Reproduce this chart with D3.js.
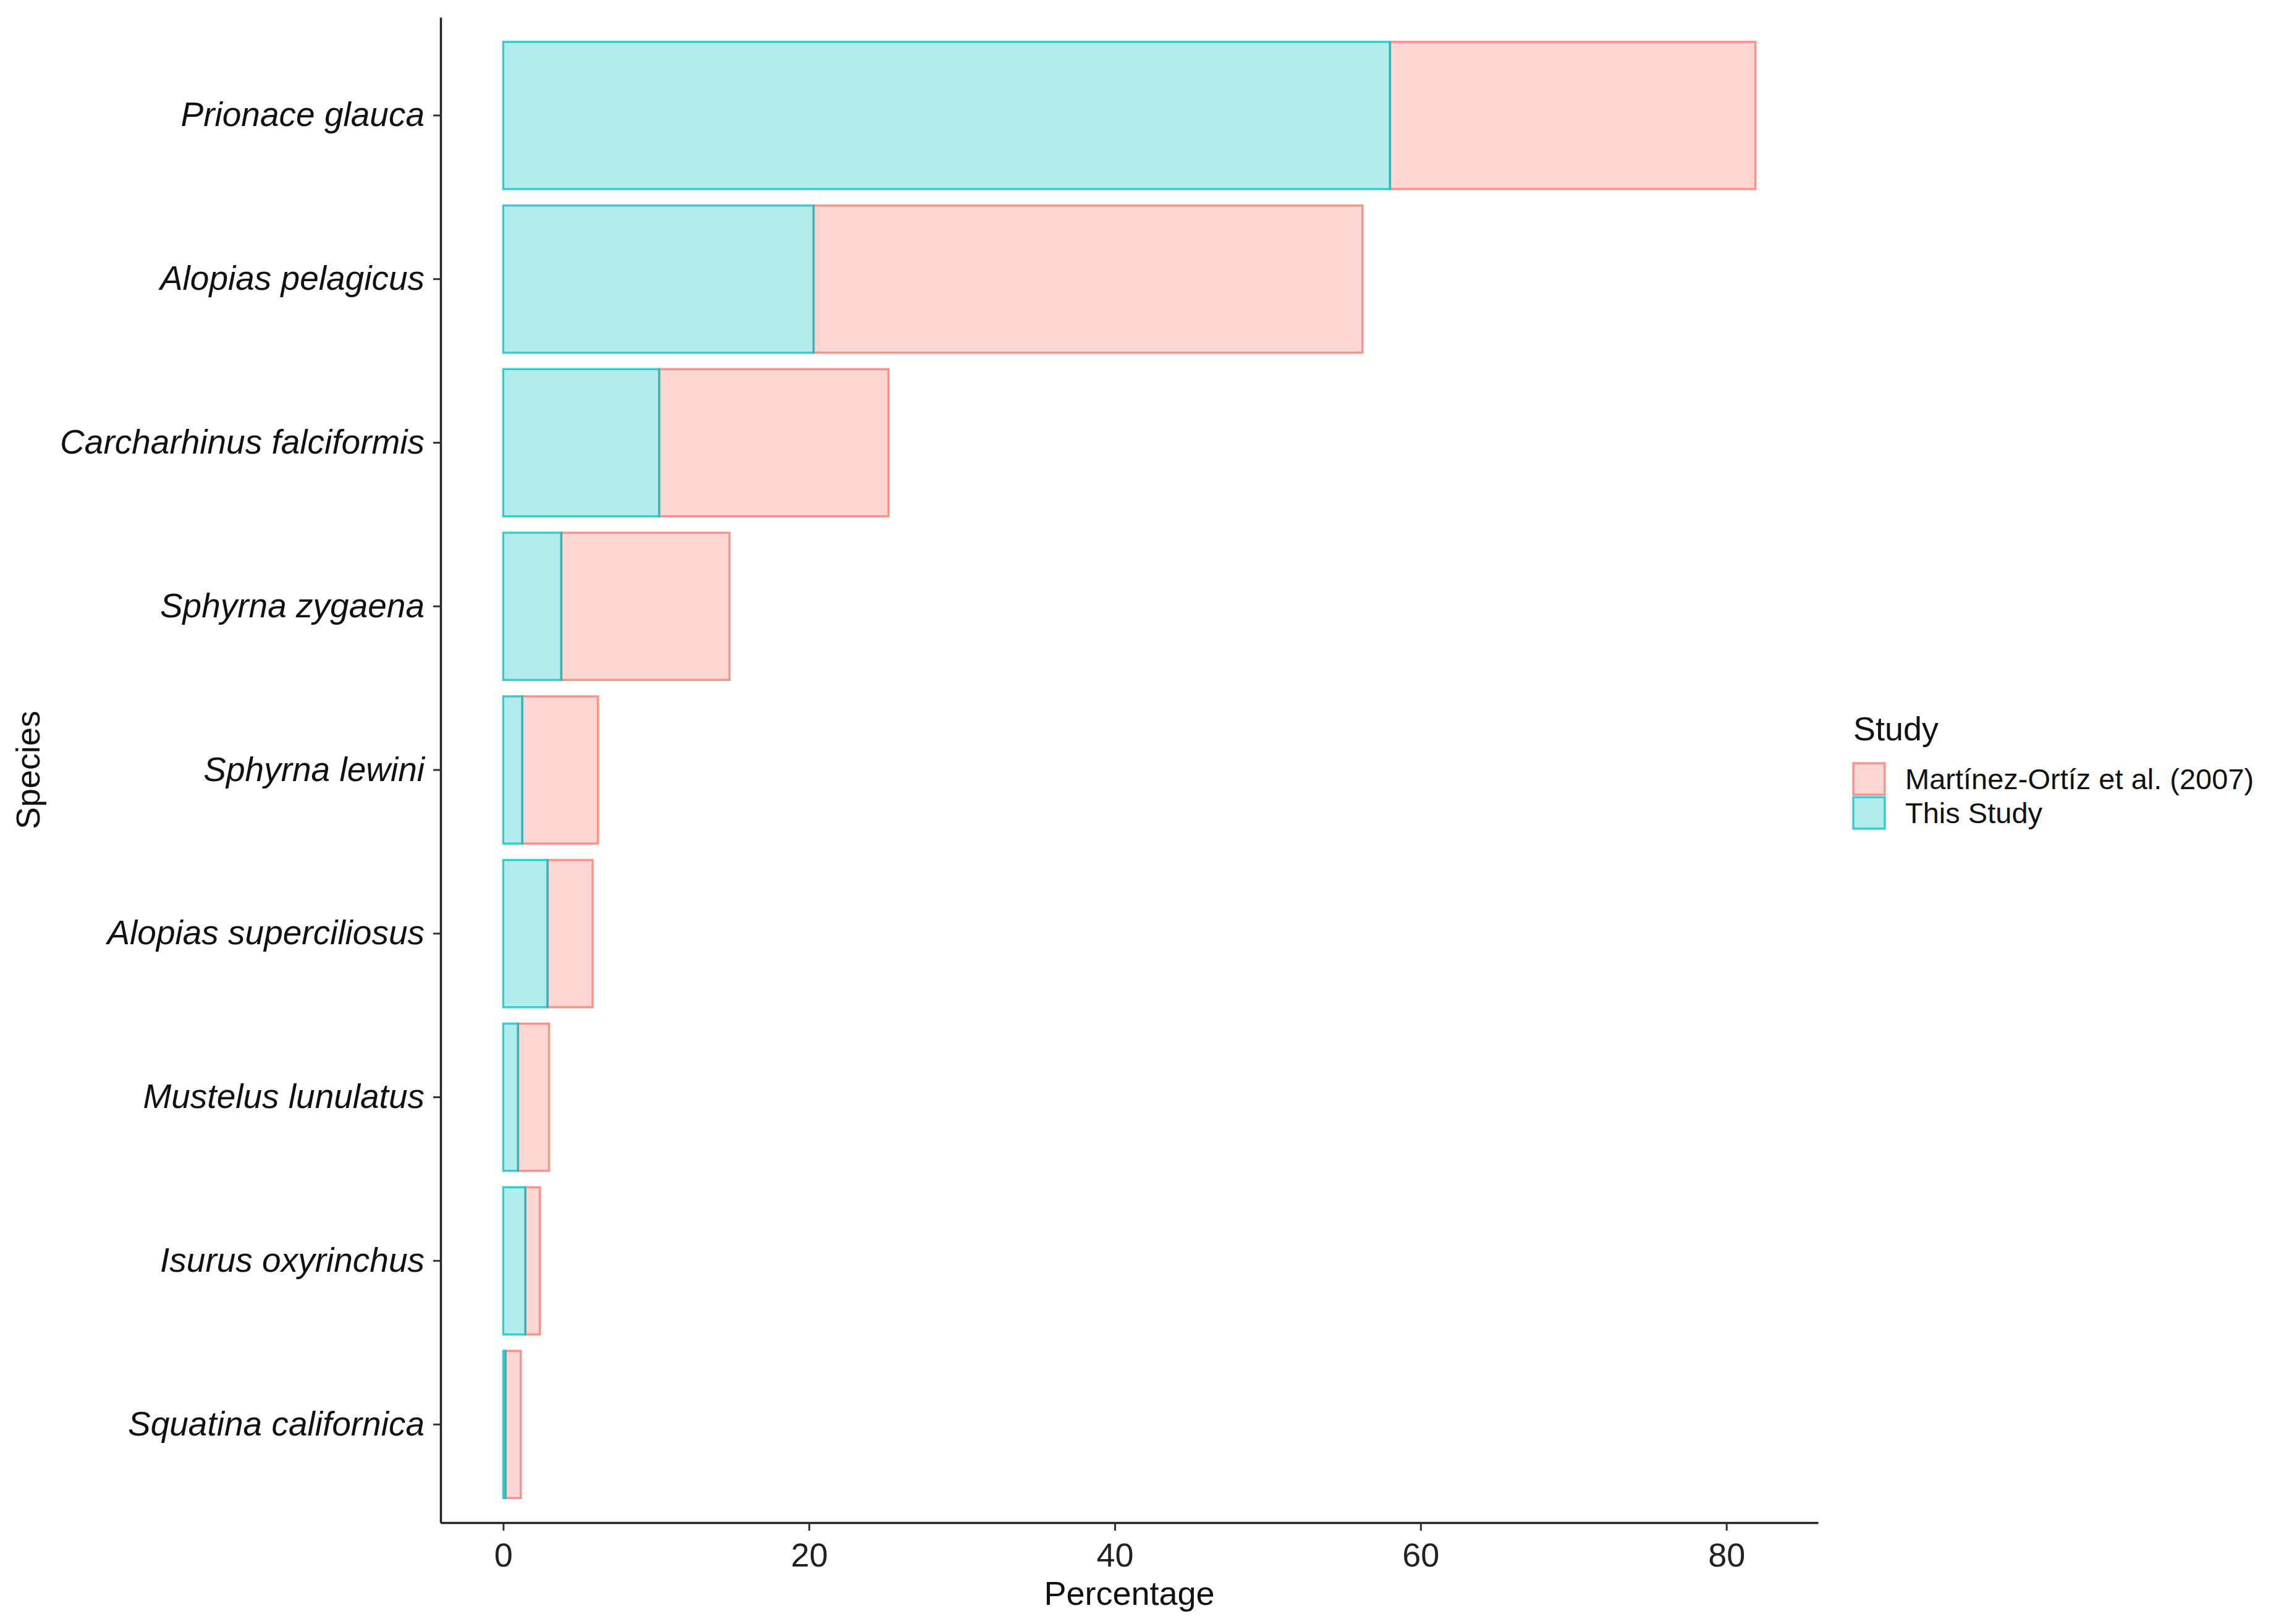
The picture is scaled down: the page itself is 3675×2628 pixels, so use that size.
<!DOCTYPE html>
<html>
<head>
<meta charset="utf-8">
<script src="https://cdn.jsdelivr.net/npm/d3@7"></script>
<style>
  body { margin: 0; background: #fff; }
  text { font-family: "Liberation Sans", Arial, sans-serif; }
</style>
</head>
<body>
<svg id="chart" width="3675" height="2628"></svg>
<script>
// Data
const species = [
    "Prionace glauca",
    "Alopias pelagicus",
    "Carcharhinus falciformis",
    "Sphyrna zygaena",
    "Sphyrna lewini",
    "Alopias superciliosus",
    "Mustelus lunulatus",
    "Isurus oxyrinchus",
    "Squatina californica"
];
const thisStudy = [58.0, 20.3, 10.2, 3.8, 1.25, 2.9, 0.97, 1.45, 0.15];
const martinez = [23.9, 35.9, 15.0, 11.0, 4.95, 2.95, 2.03, 0.95, 1.0];
const studies = ["Martínez-Ortíz et al. (2007)", "This Study"];
const studyColors = ["#F8766D", "#00BFC4"];
const xTicks = [0, 20, 40, 60, 80];

const svg = d3.select("#chart");
const W = 3675, H = 2628;
const panel = { left: 713, right: 2942, top: 28, bottom: 2464 };

const rows = species.map((s, i) => ({
    species: s,
    [studies[1]]: thisStudy[i],
    [studies[0]]: martinez[i]
}));

// This Study sits against zero, Martínez stacked on top of it
const stack = d3.stack().keys([studies[1], studies[0]]);
const series = stack(rows);

const maxTotal = d3.max(rows, d => d[studies[0]] + d[studies[1]]);
const pad = maxTotal * 0.05;
const x = d3.scaleLinear()
    .domain([-pad, maxTotal + pad])
    .range([panel.left, panel.right]);

const y = d3.scaleBand()
    .domain(species)
    .range([panel.top, panel.bottom])
    .paddingInner(0.1)
    .paddingOuter(0.15);

const color = d3.scaleOrdinal().domain(studies).range(studyColors);

// Bars: draw the outer (Martínez) layer first so the boundary line is teal
const layers = svg.append("g");
[series[1], series[0]].forEach(layer => {
    layers.append("g")
        .selectAll("rect")
        .data(layer)
        .join("rect")
        .attr("x", d => x(d[0]))
        .attr("y", d => y(d.data.species))
        .attr("width", d => x(d[1]) - x(d[0]))
        .attr("height", y.bandwidth())
        .attr("fill", color(layer.key))
        .attr("fill-opacity", 0.3)
        .attr("stroke", color(layer.key))
        .attr("stroke-opacity", 0.75)
        .attr("stroke-width", 3.5);
});

// Axes
const xAxis = svg.append("g")
    .attr("transform", `translate(0,${panel.bottom})`)
    .call(d3.axisBottom(x).tickValues(xTicks).tickSize(13).tickSizeOuter(0).tickPadding(20));
xAxis.selectAll("text").attr("font-size", 54).attr("fill", "#222");

const yAxis = svg.append("g")
    .attr("transform", `translate(${panel.left},0)`)
    .call(d3.axisLeft(y).tickSize(12).tickSizeOuter(0).tickPadding(14));
yAxis.selectAll("text")
    .attr("font-size", 55)
    .attr("font-style", "italic")
    .attr("fill", "#111");

svg.selectAll(".domain").attr("stroke", "#222").attr("stroke-width", 3.5);
svg.selectAll(".tick line").attr("stroke", "#333").attr("stroke-width", 3);

// Axis titles
svg.append("text")
    .attr("x", (panel.left + panel.right) / 2)
    .attr("y", 2597)
    .attr("text-anchor", "middle")
    .attr("font-size", 54)
    .attr("fill", "#111")
    .text("Percentage");

svg.append("text")
    .attr("transform", `translate(64,${(panel.top + panel.bottom) / 2}) rotate(-90)`)
    .attr("text-anchor", "middle")
    .attr("font-size", 54)
    .attr("fill", "#111")
    .text("Species");

// Legend
const legend = svg.append("g").attr("transform", "translate(2997,0)");
legend.append("text")
    .attr("x", 2)
    .attr("y", 1198)
    .attr("font-size", 54)
    .attr("fill", "#111")
    .text("Study");

const keyH = 55;
studies.forEach((s, i) => {
    const ky = 1233 + i * keyH;
    legend.append("rect")
        .attr("x", 2)
        .attr("y", ky + 2)
        .attr("width", 51)
        .attr("height", keyH - 4)
        .attr("fill", color(s))
        .attr("fill-opacity", 0.3)
        .attr("stroke", color(s))
        .attr("stroke-opacity", 0.75)
        .attr("stroke-width", 3.5);
    legend.append("text")
        .attr("x", 86)
        .attr("y", ky + keyH / 2 + 16)
        .attr("font-size", 47)
        .attr("fill", "#111")
        .text(s);
});
</script>
</body>
</html>
